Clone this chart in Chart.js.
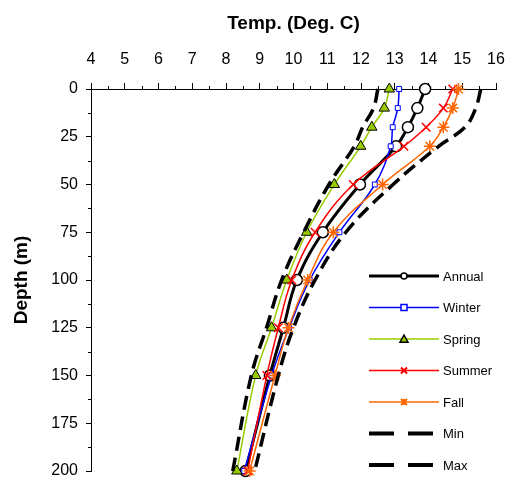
<!DOCTYPE html>
<html>
<head>
<meta charset="utf-8">
<script src="https://cdn.jsdelivr.net/npm/chart.js@4/dist/chart.umd.min.js"></script>
<style>
  html, body { margin: 0; padding: 0; background: #fff; overflow: hidden; }
</style>
</head>
<body>
<canvas id="profileChart" width="513" height="480"></canvas>
<script>
const depths = [0, 10, 20, 30, 50, 75, 100, 125, 150, 200];
const annual = [13.9, 13.67, 13.39, 13.04, 11.97, 10.87, 10.1, 9.7, 9.3, 8.58];
const winter = [13.13, 13.09, 12.94, 12.88, 12.41, 11.36, 10.48, 9.87, 9.35, 8.54];
const spring = [12.84, 12.69, 12.32, 11.99, 11.21, 10.39, 9.8, 9.35, 8.88, 8.32];
const summer = [14.72, 14.44, 13.93, 13.27, 11.77, 10.64, 9.95, 9.55, 9.21, 8.64];
const fall = [14.89, 14.72, 14.44, 14.04, 12.64, 11.18, 10.42, 9.85, 9.45, 8.7];
const minTemp = [12.5, 12.37, 12.05, 11.8, 11.05, 10.3, 9.65, 9.2, 8.75, 8.2];
const maxTemp = [15.55, 15.4, 15.08, 14.3, 12.95, 11.55, 10.64, 10.0, 9.55, 8.85];

const toPoints = temps => temps.map((t, i) => ({ x: t, y: depths[i] }));

const font = '"Liberation Sans", Arial, sans-serif';

const series = [
  { label: 'Annual', data: annual, color: '#000000', width: 3, marker: 'circle', radius: 5.5, fill: '#ffffff' },
  { label: 'Winter', data: winter, color: '#0000ff', width: 1.5, marker: 'rect', radius: 3.5, fill: '#ffffff' },
  { label: 'Spring', data: spring, color: '#99cc00', width: 1.5, marker: 'triangle', radius: 6, fill: '#99cc00' },
  { label: 'Summer', data: summer, color: '#ff0000', width: 1.5, marker: 'crossRot', radius: 6, fill: '#ff0000' },
  { label: 'Fall', data: fall, color: '#ff6600', width: 1.5, marker: 'star', radius: 6, fill: '#ff6600' },
  { label: 'Min', data: minTemp, color: '#000000', width: 3.5, dash: [14, 7] },
  { label: 'Max', data: maxTemp, color: '#000000', width: 3.5, dash: [14, 7] }
];

const datasets = series.map((s, i) => ({
  label: s.label,
  data: toPoints(s.data),
  showLine: true,
  tension: 0.4,
  borderColor: s.color,
  borderWidth: s.width,
  borderDash: s.dash || [],
  pointStyle: s.marker || 'circle',
  pointRadius: s.marker ? s.radius : 0,
  pointBackgroundColor: s.fill,
  pointBorderColor: s.marker === 'triangle' ? '#000000' : s.color,
  pointBorderWidth: s.marker === 'crossRot' || s.marker === 'star' ? 1.5 : (s.marker === 'circle' ? 1.5 : 1),
  clip: false,
  order: series.length - i
}));

// minor tick marks on both axes
const minorTicks = {
  id: 'minorTicks',
  afterDraw(chart) {
    const { ctx, scales: { x, y } } = chart;
    ctx.save();
    ctx.strokeStyle = '#000';
    ctx.lineWidth = 1;
    ctx.beginPath();
    for (let v = 4.5; v < 16; v += 1) {
      const px = Math.round(x.getPixelForValue(v)) + 0.5;
      ctx.moveTo(px, x.bottom - 3);
      ctx.lineTo(px, x.bottom);
    }
    for (let v = 12.5; v < 200; v += 25) {
      const py = Math.round(y.getPixelForValue(v)) + 0.5;
      ctx.moveTo(y.right - 3, py);
      ctx.lineTo(y.right, py);
    }
    ctx.stroke();
    ctx.restore();
  }
};

function drawMarker(ctx, s, cx, cy, r) {
  ctx.beginPath();
  if (s.marker === 'circle') {
    ctx.arc(cx, cy, r, 0, Math.PI * 2);
    ctx.fillStyle = s.fill; ctx.fill();
    ctx.strokeStyle = s.color; ctx.lineWidth = 1.5; ctx.stroke();
  } else if (s.marker === 'rect') {
    ctx.rect(cx - r, cy - r, r * 2, r * 2);
    ctx.fillStyle = s.fill; ctx.fill();
    ctx.strokeStyle = s.color; ctx.lineWidth = 1.5; ctx.stroke();
  } else if (s.marker === 'triangle') {
    ctx.moveTo(cx, cy - r);
    ctx.lineTo(cx + r, cy + r * 0.8);
    ctx.lineTo(cx - r, cy + r * 0.8);
    ctx.closePath();
    ctx.fillStyle = s.fill; ctx.fill();
    ctx.strokeStyle = '#000'; ctx.lineWidth = 1.5; ctx.stroke();
  } else if (s.marker === 'crossRot') {
    ctx.moveTo(cx - r, cy - r); ctx.lineTo(cx + r, cy + r);
    ctx.moveTo(cx + r, cy - r); ctx.lineTo(cx - r, cy + r);
    ctx.strokeStyle = s.color; ctx.lineWidth = 2; ctx.stroke();
  } else if (s.marker === 'star') {
    ctx.moveTo(cx - r, cy - r); ctx.lineTo(cx + r, cy + r);
    ctx.moveTo(cx + r, cy - r); ctx.lineTo(cx - r, cy + r);
    ctx.moveTo(cx, cy - r); ctx.lineTo(cx, cy + r);
    ctx.strokeStyle = s.color; ctx.lineWidth = 2; ctx.stroke();
  }
}

// legend drawn inside the plot, line with marker in the middle
const insideLegend = {
  id: 'insideLegend',
  afterDraw(chart) {
    const ctx = chart.ctx;
    const x0 = 369, x1 = 439, top = 276, step = 31.5;
    ctx.save();
    series.forEach((s, i) => {
      const yy = top + i * step;
      ctx.beginPath();
      ctx.setLineDash(s.dash ? [25, 14] : []);
      ctx.strokeStyle = s.color;
      ctx.lineWidth = s.dash ? 4 : s.width;
      ctx.moveTo(x0, yy);
      ctx.lineTo(x1, yy);
      ctx.stroke();
      ctx.setLineDash([]);
      if (s.marker) drawMarker(ctx, s, (x0 + x1) / 2, yy, s.marker === 'triangle' ? 4 : 3);
      ctx.fillStyle = '#000';
      ctx.font = '13px ' + font;
      ctx.textBaseline = 'middle';
      ctx.textAlign = 'left';
      ctx.fillText(s.label, x1 + 4, yy + 1);
    });
    ctx.restore();
  }
};

const tickFont = { family: font, size: 16 };
const titleFont = { family: font, size: 19, weight: 'bold' };

new Chart(document.getElementById('profileChart'), {
  type: 'scatter',
  data: { datasets },
  options: {
    responsive: false,
    animation: false,
    layout: { autoPadding: false, padding: { top: 0, left: 0, right: 17, bottom: 9 } },
    plugins: {
      legend: { display: false },
      tooltip: { enabled: false }
    },
    scales: {
      x: {
        type: 'linear',
        position: 'top',
        min: 4,
        max: 16,
        afterFit: scale => {
          scale.height = 89;
          scale.paddingLeft = 0;
          scale.paddingRight = 0;
        },
        ticks: { stepSize: 1, color: '#000', font: tickFont, padding: 14, maxRotation: 0 },
        grid: { drawOnChartArea: false, drawTicks: true, tickLength: 6, color: '#000' },
        border: { display: true, color: '#000', width: 1 },
        title: { display: true, text: 'Temp. (Deg. C)', color: '#000', font: titleFont, padding: { top: 12, bottom: 0 } }
      },
      y: {
        type: 'linear',
        reverse: true,
        min: 0,
        max: 200,
        afterFit: scale => {
          scale.width = 91;
          scale.paddingTop = 0;
          scale.paddingBottom = 0;
        },
        ticks: { stepSize: 25, color: '#000', font: tickFont, padding: 8 },
        grid: { drawOnChartArea: false, drawTicks: true, tickLength: 5, color: '#000' },
        border: { display: true, color: '#000', width: 1 },
        title: { display: true, text: 'Depth (m)', color: '#000', font: titleFont, padding: { top: 10, bottom: 0 } }
      }
    }
  },
  plugins: [minorTicks, insideLegend]
});
</script>
</body>
</html>
